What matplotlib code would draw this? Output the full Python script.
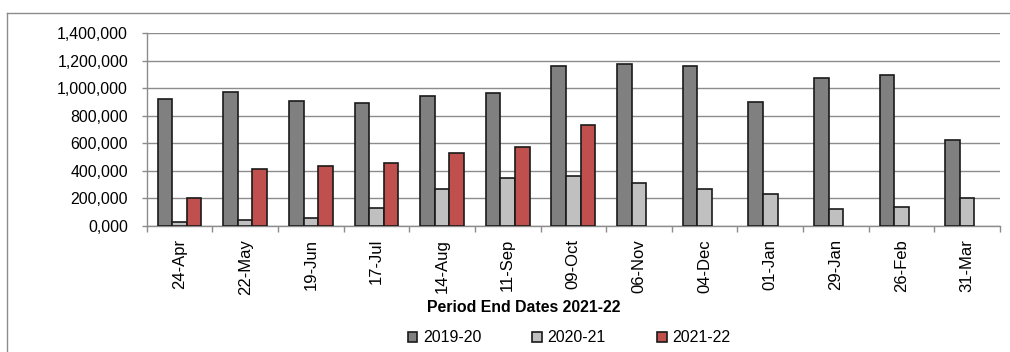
import matplotlib
matplotlib.use("Agg")
import matplotlib.pyplot as plt
import numpy as np
from matplotlib.lines import Line2D
from matplotlib.ticker import FixedLocator, FuncFormatter

plt.rcParams['font.family'] = ['Liberation Sans', 'DejaVu Sans']

periods = ["24-Apr", "22-May", "19-Jun", "17-Jul", "14-Aug", "11-Sep", "09-Oct",
           "06-Nov", "04-Dec", "01-Jan", "29-Jan", "26-Feb", "31-Mar"]
series_names = ["2019-20", "2020-21", "2021-22"]
values_2019_20 = [920000, 970000, 905000, 895000, 945000, 965000, 1160000,
                  1175000, 1160000, 900000, 1075000, 1095000, 628000]
values_2020_21 = [28000, 40000, 60000, 130000, 272000, 350000, 365000,
                  312000, 268000, 230000, 125000, 140000, 200000]
values_2021_22 = [200000, 415000, 435000, 455000, 530000, 575000, 735000,
                  None, None, None, None, None, None]
y_ticks = [0, 200000, 400000, 600000, 800000, 1000000, 1200000, 1400000]

colors = ["#808080", "#C0C0C0", "#C0504D"]
grid_color = "#8C8C8C"

W, H = 1010, 352
fig = plt.figure(figsize=(W / 100, H / 100), dpi=100)
ax = fig.add_axes([146.7 / W, 1 - 226 / H, (1000 - 146.7) / W, (226 - 33.3) / H])

x = np.arange(len(periods))
bw = 1 / 4.5
for k, (name, vals, col) in enumerate(zip(series_names,
                                          [values_2019_20, values_2020_21, values_2021_22],
                                          colors)):
    xs = [xi for xi, v in zip(x, vals) if v is not None]
    vs = [v for v in vals if v is not None]
    ax.bar(np.array(xs) + (k - 1) * bw, vs, width=bw, color=col,
           edgecolor="#1a1a1a", linewidth=1.2, label=name, zorder=3)

ax.set_xlim(-0.5, len(periods) - 0.5)
ax.set_ylim(0, 1400000)

ax.yaxis.set_major_locator(FixedLocator(y_ticks))


def fmt(v, pos):
    if v < 1000:
        return "0," + f"{int(v):03d}"
    return f"{v:,.0f}"


ax.yaxis.set_major_formatter(FuncFormatter(fmt))
ax.grid(axis="y", color=grid_color, linewidth=1.0, zorder=0)
ax.set_axisbelow(True)

ax.set_xticks(x)
ax.set_xticklabels(periods, rotation=90, fontsize=12)
ax.tick_params(axis="x", which="major", length=0, pad=9.4)
ax.set_xticks(np.arange(-0.5, len(periods)), minor=True)
ax.tick_params(axis="x", which="minor", length=4.5, color=grid_color, width=1)
ax.tick_params(axis="y", length=3.5, color=grid_color, width=1, labelsize=11.4, pad=9.9)

for s in ["top", "right"]:
    ax.spines[s].set_visible(False)
for s in ["left", "bottom"]:
    ax.spines[s].set_color(grid_color)
    ax.spines[s].set_linewidth(1.0)

fig.text(523.5 / W, 1 - 308 / H, "Period End Dates 2021-22", ha="center", va="center",
         fontsize=11.4, fontweight="bold")

handles, labels = ax.get_legend_handles_labels()
leg = fig.legend(handles, labels, loc="center", bbox_to_anchor=(569 / W, 1 - 338 / H),
                 ncol=3, frameon=False, fontsize=11.5, handlelength=0.6, handleheight=0.6,
                 handletextpad=0.35, columnspacing=3.2, borderpad=0)

# chart area frame (left and top edges)
fig.add_artist(Line2D([7.3 / W, 7.3 / W], [0, 1 - 13.3 / H], transform=fig.transFigure,
                      color=grid_color, linewidth=1.0))
fig.add_artist(Line2D([7.3 / W, 1], [1 - 13.3 / H, 1 - 13.3 / H], transform=fig.transFigure,
                      color=grid_color, linewidth=1.0))

fig.savefig("out.png", dpi=100)
